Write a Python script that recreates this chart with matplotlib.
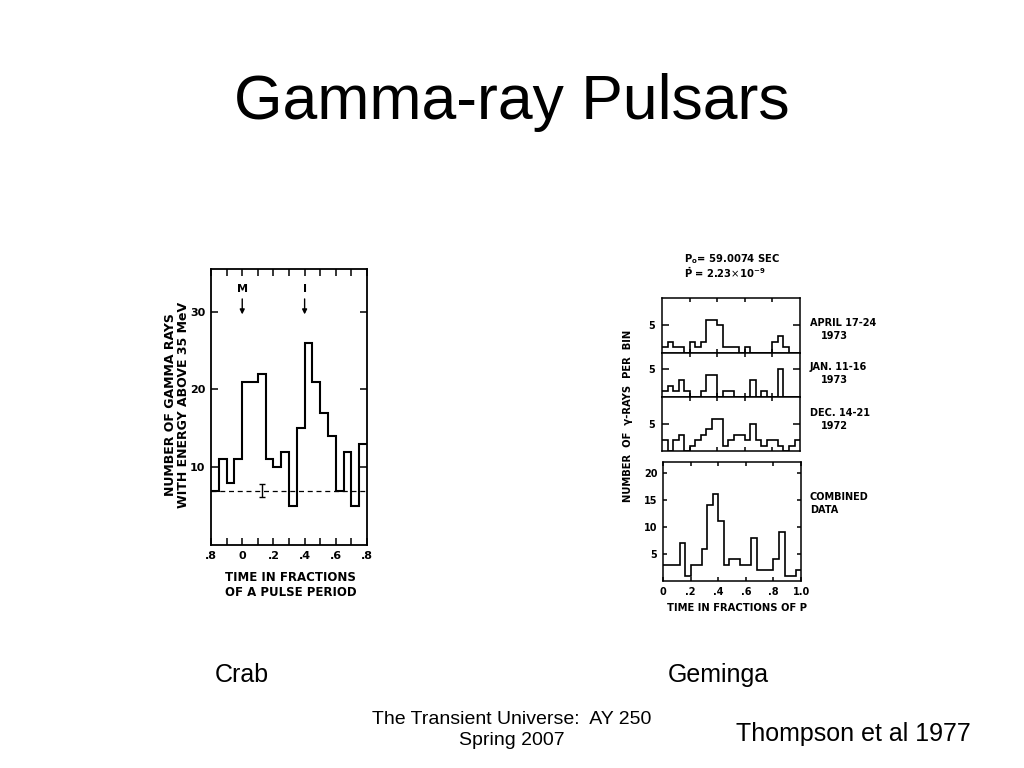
import matplotlib

matplotlib.use("Agg")
import matplotlib.pyplot as plt
import numpy as np

# Crab light curve (Thompson et al 1977), 20 bins from phase -0.2 to 0.8
crab_counts = [7, 11, 8, 11, 21, 21, 22, 11, 10, 12, 5, 15, 26, 21, 17, 14, 7, 12, 5, 13]
crab_phase_range = (-0.2, 0.8)
crab_background = 7
crab_bg_err = (0.125, 0.8)
crab_xticks = [-0.2, 0.0, 0.2, 0.4, 0.6, 0.8]
crab_xticklabels = [".8", "0", ".2", ".4", ".6", ".8"]
crab_yticks = [10, 20, 30]
crab_markers = {"M": 0.0, "I": 0.4}

# Geminga, 25 bins over one period
gem_april = [1, 2, 1, 1, 0, 2, 1, 2, 6, 6, 5, 1, 1, 1, 0, 1, 0, 0, 0, 0, 2, 3, 1, 0, 0]
gem_jan = [1, 2, 1, 3, 1, 0, 0, 1, 4, 4, 0, 1, 1, 0, 0, 0, 3, 0, 1, 0, 0, 5, 0, 0, 0]
gem_dec = [2, 0, 2, 3, 0, 1, 2, 3, 4, 6, 6, 1, 2, 3, 3, 2, 5, 2, 1, 2, 2, 1, 0, 1, 2]
gem_combined = [3, 3, 3, 7, 1, 3, 3, 6, 14, 16, 11, 3, 4, 4, 3, 3, 8, 2, 2, 2, 4, 9, 1, 1, 2]
gem_dates = ["APRIL 17-24", "JAN. 11-16", "DEC. 14-21"]
gem_years = ["1973", "1973", "1972"]
gem_ymax = [10, 8, 10]
gem_xticks = [0.0, 0.2, 0.4, 0.6, 0.8, 1.0]
gem_xticklabels = ["0", ".2", ".4", ".6", ".8", "1.0"]
gem_comb_yticks = [5, 10, 15, 20]

INK = "black"
FIG_FONT = "DejaVu Sans"
SLIDE_FONT = "Liberation Sans"

fig = plt.figure(figsize=(10.24, 7.68), dpi=100)
fig.patch.set_facecolor("white")


def style_axis(ax, lw=1.3):
    for sp in ax.spines.values():
        sp.set_linewidth(lw)
        sp.set_color(INK)
    ax.tick_params(direction="in", top=True, right=True, length=5, width=1.1,
                   labelsize=8, pad=4, colors=INK)
    for lab in ax.get_xticklabels() + ax.get_yticklabels():
        lab.set_fontweight("bold")
        lab.set_family(FIG_FONT)


def small_text(x, y, s, **kw):
    opts = dict(fontsize=7.2, fontweight="bold", family=FIG_FONT, va="center")
    opts.update(kw)
    fig.text(x, y, s, **opts)


# ---- Crab ----
ax_crab = fig.add_axes([0.2061, 0.2904, 0.1523, 0.3594])
crab_edges = np.linspace(crab_phase_range[0], crab_phase_range[1], len(crab_counts) + 1)
ax_crab.stairs(crab_counts, crab_edges, baseline=None, color=INK, linewidth=1.5)
ax_crab.axhline(crab_background, color=INK, linestyle=(0, (4, 3)), linewidth=0.9)
ax_crab.errorbar([crab_bg_err[0]], [crab_background], yerr=crab_bg_err[1], color=INK,
                 capsize=2, linewidth=1.0, capthick=1.0)
for name, pos in crab_markers.items():
    ax_crab.annotate("", xy=(pos, 29.3), xytext=(pos, 32.0),
                     arrowprops=dict(arrowstyle="-|>", color=INK, lw=1.0, mutation_scale=7))
    ax_crab.text(pos, 32.3, name, ha="center", va="bottom", fontsize=8,
                 fontweight="bold", family=FIG_FONT)
ax_crab.set_xlim(*crab_phase_range)
ax_crab.set_ylim(0, 35.5)
ax_crab.set_xticks(crab_xticks)
ax_crab.set_xticklabels(crab_xticklabels)
ax_crab.set_xticks(np.arange(-0.1, 0.8, 0.2), minor=True)
ax_crab.set_yticks(crab_yticks)
style_axis(ax_crab)
ax_crab.tick_params(which="minor", direction="in", top=True, length=5, width=1.1)
small_text(0.173, 0.473, "NUMBER OF GAMMA RAYS\nWITH ENERGY ABOVE 35 MeV", rotation=90,
           ha="center", fontsize=9, linespacing=1.05)
small_text(0.284, 0.238, "TIME IN FRACTIONS\nOF A PULSE PERIOD", ha="center",
           fontsize=8.5, linespacing=1.15)

# ---- Geminga stacked panels ----
stack_pos = [
    [0.6465, 0.5404, 0.1348, 0.0716],
    [0.6465, 0.4831, 0.1348, 0.0573],
    [0.6465, 0.4128, 0.1348, 0.0703],
]
date_y = [323, 367, 413]
gem_edges = np.linspace(0.0, 1.0, len(gem_combined) + 1)
for pos, counts, date, year, ymax, dy in zip(stack_pos, [gem_april, gem_jan, gem_dec],
                                             gem_dates, gem_years, gem_ymax, date_y):
    ax = fig.add_axes(pos)
    ax.stairs(counts, gem_edges, baseline=None, color=INK, linewidth=1.2)
    ax.set_xlim(0, 1)
    ax.set_ylim(0, ymax)
    ax.set_yticks([5])
    ax.set_xticks([0.2, 0.4, 0.6, 0.8])
    style_axis(ax, lw=1.1)
    ax.tick_params(axis="x", labelbottom=False, length=3)
    ax.tick_params(axis="y", labelsize=7, pad=5)
    small_text(0.791, 1 - dy / 768, date, ha="left", fontsize=7)
    small_text(0.815, 1 - (dy + 13) / 768, year, ha="center", fontsize=7)

ax_comb = fig.add_axes([0.6475, 0.2435, 0.1348, 0.155])
ax_comb.stairs(gem_combined, gem_edges, baseline=None, color=INK, linewidth=1.2)
ax_comb.set_xlim(0, 1)
ax_comb.set_ylim(0, 22)
ax_comb.set_xticks(gem_xticks)
ax_comb.set_xticklabels(gem_xticklabels)
ax_comb.set_yticks(gem_comb_yticks)
style_axis(ax_comb, lw=1.1)
ax_comb.tick_params(labelsize=7, length=3)
small_text(0.791, 1 - 497 / 768, "COMBINED", ha="left", fontsize=7)
small_text(0.791, 1 - 510 / 768, "DATA", ha="left", fontsize=7)
small_text(0.613, 0.458, "NUMBER  OF  \u03b3-RAYS  PER  BIN", rotation=90, ha="center")
small_text(0.720, 0.208, "TIME IN FRACTIONS OF P", ha="center")
small_text(0.668, 0.662, r"P$_\mathbf{o}$= 59.0074 SEC", ha="left")
small_text(0.668, 0.645, r"$\mathbf{\dot{P}}$ = 2.23$\times$10$^{\mathbf{-9}}$", ha="left")

# ---- slide text ----
fig.text(0.5, 0.866, "Gamma-ray Pulsars", ha="center", va="center", fontsize=45,
         family=SLIDE_FONT)
fig.text(0.236, 0.121, "Crab", ha="center", va="center", fontsize=18, family=SLIDE_FONT)
fig.text(0.701, 0.121, "Geminga", ha="center", va="center", fontsize=18, family=SLIDE_FONT)
fig.text(0.5, 0.0495, "The Transient Universe:  AY 250\nSpring 2007", ha="center",
         va="center", fontsize=14, family=SLIDE_FONT, linespacing=1.35)
fig.text(0.833, 0.044, "Thompson et al 1977", ha="center", va="center", fontsize=18,
         family=SLIDE_FONT)

fig.savefig("out.png", dpi=100, facecolor="white")
plt.close(fig)
